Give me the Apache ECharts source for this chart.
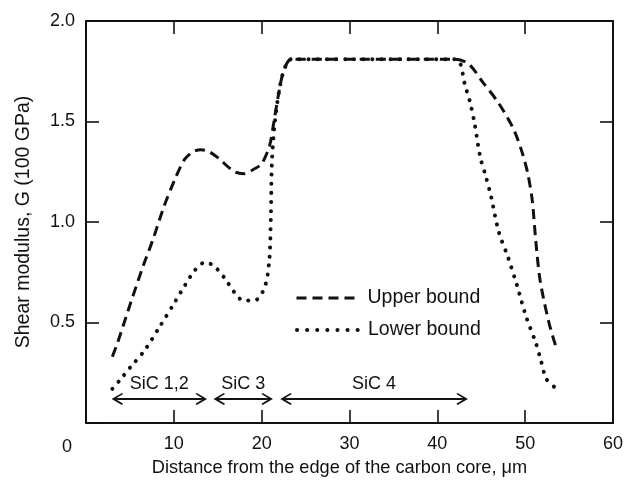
<!DOCTYPE html>
<html>
<head>
<meta charset="utf-8">
<script src="https://cdn.jsdelivr.net/npm/echarts@6/dist/echarts.min.js"></script>
<style>
html,body{margin:0;padding:0;background:#fff;}
#chart{width:627px;height:483px;}
</style>
</head>
<body>
<div id="chart"></div>
<script>
// ---- data (x: distance in µm, y: shear modulus in 100 GPa) ----
var upperBound = [
  [3.0,0.33],[3.6,0.40],[5.1,0.60],[6.5,0.78],[7.6,0.91],[8.9,1.08],[10.1,1.21],
  [11.2,1.31],[12.2,1.35],[13.1,1.36],[14.0,1.35],[15.0,1.32],[16.9,1.25],[18.0,1.24],
  [19.0,1.26],[20.0,1.29],[20.9,1.38],[21.4,1.50],[21.9,1.63],[22.5,1.75],[23.4,1.81],
  [30.0,1.81],[36.0,1.81],[42.1,1.81],[43.6,1.785],[45.1,1.70],[47.0,1.59],[48.7,1.46],
  [49.7,1.34],[50.3,1.24],[50.8,1.11],[51.2,0.91],[51.7,0.71],[52.7,0.50],[53.5,0.38]
];
var lowerBound = [
  [3.0,0.17],[3.8,0.21],[5.1,0.28],[6.65,0.36],[8.4,0.48],[10.1,0.60],[11.2,0.68],
  [12.4,0.76],[13.6,0.80],[14.6,0.78],[15.8,0.72],[16.9,0.65],[17.9,0.61],[19.2,0.61],
  [20.3,0.67],[20.85,0.80],[21.05,1.03],[21.15,1.28],[21.4,1.45],[21.9,1.63],[22.5,1.75],
  [23.4,1.81],[30.0,1.81],[36.0,1.81],[42.0,1.81],[42.6,1.79],[43.1,1.69],[43.7,1.60],
  [44.2,1.50],[44.9,1.32],[45.5,1.23],[46.1,1.13],[47.0,0.95],[48.0,0.83],[49.1,0.68],
  [50.1,0.53],[51.2,0.40],[51.8,0.31],[52.4,0.22],[53.3,0.18]
];
var seriesNames = ['Upper bound', 'Lower bound'];
// region annotations
var regionNames = ['SiC 1,2', 'SiC 3', 'SiC 4'];
var regionStart = [3.6, 15.2, 22.8];
var regionEnd = [13.1, 20.6, 42.8];
var regionY = 0.12;
var xTicks = [0, 60, 10];   // min, max, interval
var yTicks = [0, 2, 0.5];

var FONT = '"Liberation Sans", Arial, Helvetica, sans-serif';
var INK = '#111';
var chevron = 'path://M5,0 L10,8.6 L9,9.6 L5.8,4.2 L5.8,10 L4.2,10 L4.2,4.2 L1,9.6 L0,8.6 Z';
var dashStyle = {color: INK, width: 3, type: [10, 6], cap: 'butt'};
var dotStyle = {color: INK, width: 4, type: [0.1, 9], cap: 'round'};

var chart = echarts.init(document.getElementById('chart'), null, {renderer: 'canvas'});

function baseAxisLine() { return {show: true, onZero: false, lineStyle: {color: INK, width: 2}}; }
function baseTick() { return {show: true, inside: true, length: 13, lineStyle: {color: INK, width: 1.6}}; }

var legendText = {fontSize: 19.5, color: INK, fontFamily: FONT, padding: [0, 0, 0, 4], lineHeight: 20};

var option = {
  animation: false,
  backgroundColor: '#fff',
  textStyle: {fontFamily: FONT},
  grid: {left: 86, right: 14, top: 21, bottom: 60, containLabel: false},
  xAxis: [{
    type: 'value', min: xTicks[0], max: xTicks[1], interval: xTicks[2],
    position: 'bottom',
    axisLine: baseAxisLine(), axisTick: baseTick(), splitLine: {show: false},
    axisLabel: {margin: 12, fontSize: 18, color: INK, fontFamily: FONT,
      formatter: function (v) { return v === 0 ? '' : String(v); }},
    name: 'Distance from the edge of the carbon core, \u03bcm',
    nameLocation: 'middle', nameGap: 36,
    nameTextStyle: {fontSize: 18.2, color: INK, fontFamily: FONT, padding: [0, 20, 0, 0]}
  }, {
    type: 'value', min: xTicks[0], max: xTicks[1], interval: xTicks[2],
    position: 'top',
    axisLine: baseAxisLine(), axisTick: baseTick(), splitLine: {show: false},
    axisLabel: {show: false}
  }],
  yAxis: [{
    type: 'value', min: yTicks[0], max: yTicks[1], interval: yTicks[2],
    position: 'left',
    axisLine: baseAxisLine(), axisTick: baseTick(), splitLine: {show: false},
    axisLabel: {margin: 11, fontSize: 18, color: INK, fontFamily: FONT,
      formatter: function (v) { return v === 0 ? '' : v.toFixed(1); }},
    name: 'Shear modulus, G (100 GPa)',
    nameLocation: 'middle', nameGap: 52, nameRotate: 90,
    nameTextStyle: {fontSize: 19.5, color: INK, fontFamily: FONT}
  }, {
    type: 'value', min: yTicks[0], max: yTicks[1], interval: yTicks[2],
    position: 'right',
    axisLine: baseAxisLine(), axisTick: baseTick(), splitLine: {show: false},
    axisLabel: {show: false}
  }],
  legend: [{
    data: [seriesNames[0]], left: 295, top: 288, padding: 0,
    itemWidth: 62, itemHeight: 20, itemStyle: {opacity: 0},
    lineStyle: dashStyle,
    textStyle: legendText
  }, {
    data: [seriesNames[1]], left: 295, top: 320, padding: 0,
    itemWidth: 62, itemHeight: 20, itemStyle: {opacity: 0},
    lineStyle: {color: INK, width: 4, type: [0.1, 10], cap: 'round'},
    textStyle: legendText
  }],
  graphic: [{
    type: 'text', left: 62, top: 438, silent: true,
    style: {text: '0', fontSize: 18, fontFamily: FONT, fill: INK}
  }],
  series: [{
    name: seriesNames[0], type: 'line', xAxisIndex: 0, yAxisIndex: 0,
    data: upperBound, showSymbol: false, symbol: 'none', smooth: 0.3,
    color: INK, lineStyle: dashStyle, z: 3
  }, {
    name: seriesNames[1], type: 'line', xAxisIndex: 0, yAxisIndex: 0,
    data: lowerBound, showSymbol: false, symbol: 'none', smooth: 0.3,
    color: INK, lineStyle: dotStyle, z: 4
  }, {
    name: 'regions', type: 'line', xAxisIndex: 0, yAxisIndex: 0, data: [],
    markLine: {
      silent: true, animation: false,
      symbol: [chevron, chevron], symbolSize: 12,
      itemStyle: {color: INK},
      lineStyle: {color: INK, width: 1.8, type: 'solid'},
      label: {show: true, position: 'insideMiddleTop', distance: 6,
        fontSize: 18, color: INK, fontFamily: FONT,
        formatter: function (p) { return p.name; }},
      data: regionNames.map(function (n, i) {
        return [{name: n, coord: [regionStart[i], regionY]}, {coord: [regionEnd[i], regionY]}];
      })
    }
  }]
};
chart.setOption(option);
</script>
</body>
</html>
